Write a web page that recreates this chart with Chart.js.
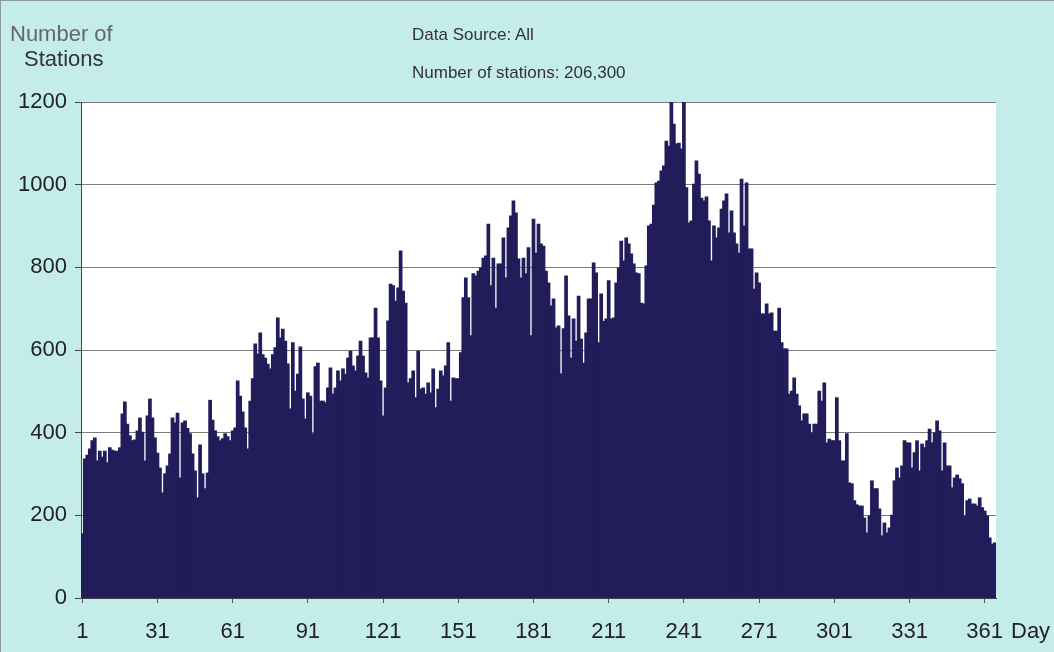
<!DOCTYPE html>
<html>
<head>
<meta charset="utf-8">
<script src="https://cdn.jsdelivr.net/npm/chart.js@4.4.1/dist/chart.umd.min.js"></script>
<style>
  body { margin: 0; background: #c4ecea; }
  #wrap { position: relative; width: 1054px; height: 652px; overflow: hidden;
          border-top: 1px solid #8a9a9a; border-left: 1px solid #8a9a9a; box-sizing: border-box; }
  canvas { position: absolute; left: 0; top: 0; }
  .txt { position: absolute; font-family: 'Liberation Sans', Arial, sans-serif; color: #333; white-space: nowrap; }
</style>
</head>
<body>
<div id="wrap">
  <canvas id="stations_per_day" width="1054" height="652"></canvas>
  <div class="txt" style="left:9px; top:20px; font-size:22px; color:#666;">Number of</div>
  <div class="txt" style="left:23px; top:45px; font-size:22px;">Stations</div>
  <div class="txt" style="left:411px; top:24px; font-size:17px;">Data Source: All</div>
  <div class="txt" style="left:411px; top:62px; font-size:17px;">Number of stations: 206,300</div>
  <div class="txt" style="left:1010px; top:617px; font-size:22px; color:#222;">Day</div>
</div>
<script>
// daily counts, day 1 .. 365
const stations = [
    155, 336, 345, 360, 380, 387, 331, 355, 340, 355,
    327, 363, 357, 355, 355, 363, 445, 474, 420, 392,
    380, 382, 404, 435, 401, 331, 440, 481, 435, 387,
    350, 314, 254, 300, 319, 348, 435, 423, 447, 290,
    423, 428, 410, 397, 348, 307, 242, 370, 300, 264,
    302, 478, 430, 404, 390, 380, 385, 397, 390, 380,
    404, 411, 525, 488, 450, 411, 360, 476, 530, 614,
    590, 641, 588, 580, 565, 554, 588, 605, 677, 629,
    650, 621, 566, 457, 617, 500, 541, 607, 481, 433,
    496, 488, 397, 559, 568, 476, 476, 472, 508, 556,
    493, 508, 549, 525, 554, 541, 580, 597, 561, 549,
    585, 621, 585, 544, 532, 629, 629, 701, 629, 525,
    440, 508, 670, 759, 755, 718, 750, 839, 742, 713,
    520, 530, 549, 484, 597, 505, 508, 493, 520, 496,
    554, 460, 505, 549, 537, 561, 617, 476, 532, 530,
    530, 593, 726, 774, 726, 634, 784, 779, 790, 798,
    822, 827, 904, 755, 822, 701, 808, 808, 871, 774,
    895, 924, 960, 931, 820, 774, 822, 784, 847, 634,
    916, 834, 904, 856, 851, 790, 762, 706, 723, 653,
    658, 542, 651, 779, 682, 580, 675, 621, 730, 626,
    568, 641, 723, 723, 810, 786, 617, 735, 669, 675,
    767, 675, 677, 762, 798, 863, 815, 871, 856, 832,
    808, 786, 784, 713, 711, 803, 900, 904, 950, 1004,
    1008, 1033, 1045, 1105, 1093, 1200, 1146, 1098, 1100, 1086,
    1200, 992, 907, 912, 1001, 1057, 1025, 967, 960, 970,
    912, 815, 900, 871, 895, 940, 960, 977, 883, 936,
    883, 856, 834, 1013, 900, 1004, 844, 844, 747, 786,
    762, 687, 687, 711, 687, 689, 645, 645, 701, 617,
    602, 602, 493, 500, 532, 493, 464, 428, 445, 445,
    420, 399, 420, 420, 500, 476, 520, 375, 384, 380,
    380, 484, 380, 331, 331, 397, 278, 276, 235, 225,
    222, 222, 193, 157, 198, 283, 264, 264, 215, 150,
    181, 157, 169, 200, 283, 314, 290, 319, 380, 375,
    375, 314, 351, 380, 307, 372, 363, 380, 408, 375,
    399, 428, 404, 307, 375, 319, 319, 266, 290, 297,
    288, 276, 198, 235, 239, 227, 227, 222, 242, 218,
    210, 198, 145, 130, 133
];
const days = stations.map((v, i) => String(i + 1));
const dayTicks = ['1', '31', '61', '91', '121', '151', '181', '211', '241', '271', '301', '331', '361'];
const yTicks = [0, 200, 400, 600, 800, 1000, 1200];

const whitePlot = {
    id: 'whitePlot',
    beforeDraw(chart) {
        const a = chart.chartArea, ctx = chart.ctx;
        ctx.save();
        ctx.fillStyle = '#ffffff';
        ctx.fillRect(a.left, a.top, a.right - a.left, a.bottom - a.top);
        ctx.restore();
    }
};

const ctx = document.getElementById('stations_per_day').getContext('2d');
const stationsChart = new Chart(ctx, {
    type: 'bar',
    data: {
        labels: days,
        datasets: [{
            label: 'Number of stations',
            data: stations,
            backgroundColor: '#221d5a',
            borderWidth: 0,
            inflateAmount: 0.6,
            barPercentage: 1,
            categoryPercentage: 1
        }]
    },
    options: {
        responsive: false,
        animation: false,
        devicePixelRatio: 1,
        layout: { padding: { left: 0, right: 59, top: 101, bottom: 0 } },
        plugins: { legend: { display: false }, tooltip: { enabled: false } },
        scales: {
            x: {
                offset: true,
                grid: {
                    offset: false,
                    drawOnChartArea: false,
                    tickLength: 5,
                    color: c => dayTicks.includes(days[c.index]) ? '#555' : 'rgba(0,0,0,0)'
                },
                border: { color: '#444' },
                ticks: {
                    autoSkip: false,
                    maxRotation: 0,
                    padding: 16,
                    color: '#222',
                    font: { family: "'Liberation Sans', Arial, sans-serif", size: 22 },
                    callback: (v, i) => dayTicks.includes(days[i]) ? days[i] : ''
                },
                afterFit: s => { s.height = 55; }
            },
            y: {
                min: 0,
                max: 1200,
                afterBuildTicks: s => { s.ticks = yTicks.map(v => ({ value: v })); },
                grid: { color: '#7a7a7a', tickLength: 6, tickColor: '#444' },
                border: { color: '#444' },
                ticks: {
                    padding: 8,
                    color: '#222',
                    font: { family: "'Liberation Sans', Arial, sans-serif", size: 22 },
                    callback: v => String(v)
                },
                afterFit: s => { s.width = 80; }
            }
        }
    },
    plugins: [whitePlot]
});
</script>
</body>
</html>
